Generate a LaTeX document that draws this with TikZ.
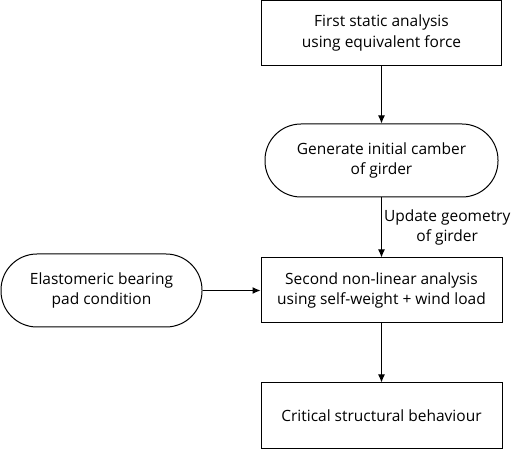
\documentclass[tikz,border=0pt]{standalone}
\usepackage{fontspec}
\setmainfont{Open Sans}
\usetikzlibrary{arrows.meta}
\tikzset{
  procbox/.style={draw,line width=1pt,rectangle,align=center,font=\fontsize{15.5}{20.5}\selectfont},
  termbox/.style={draw,line width=1pt,rectangle,rounded corners=36pt,align=center,font=\fontsize{15.5}{20.5}\selectfont},
  flow/.style={line width=1pt,-{Latex[length=8pt,width=7pt]}},
}
\begin{document}
\begin{tikzpicture}[x=1pt,y=-1pt]
    \useasboundingbox (0,0) rectangle (520,449);
    %% Main column
    \node[procbox,minimum width=240pt,minimum height=65pt] (first) at (381.5,33) {First static analysis\\using equivalent force};
    \node[termbox,minimum width=233pt,minimum height=73pt] (camber) at (381.5,160.5) {Generate initial camber\\of girder};
    \node[procbox,minimum width=241pt,minimum height=65pt] (second) at (381.5,290.5) {Second non-linear analysis\\using self-weight + wind load};
    \node[procbox,minimum width=241pt,minimum height=65pt] (critical) at (381.5,415.5) {Critical structural behaviour};
    %% Side input
    \node[termbox,minimum width=201pt,minimum height=73pt] (pad) at (101.5,290.5) {Elastomeric bearing\\pad condition};
    %% Arrows
    \draw[flow] (first) -- (camber);
    \draw[flow] (camber) -- (second) node[pos=0.5,anchor=west,inner sep=2pt,align=center,font=\fontsize{15.5}{20.5}\selectfont] {Update geometry\\of girder};
    \draw[flow] (pad) -- (second);
    \draw[flow] (second) -- (critical);
\end{tikzpicture}
\end{document}
